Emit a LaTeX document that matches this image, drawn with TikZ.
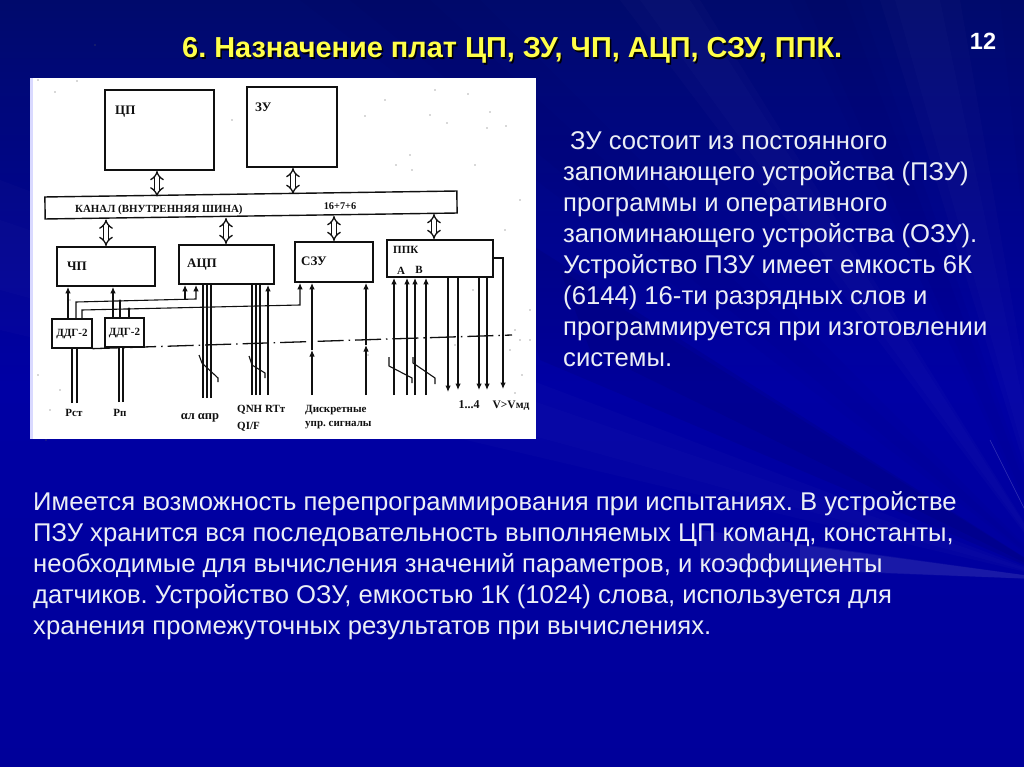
\documentclass[tikz,border=0pt]{standalone}
\usepackage{fontspec}
\setmainfont{Liberation Sans}
\newfontfamily\dserif{Liberation Serif}
\usetikzlibrary{arrows.meta}
\definecolor{bgtop}{HTML}{000A6C}
\definecolor{bgmid}{HTML}{0000A4}
\definecolor{bgbot}{HTML}{00009A}
\definecolor{bodytxt}{HTML}{EBEEF5}
\definecolor{titletxt}{HTML}{FFFF4A}
\definecolor{ink}{HTML}{101010}
\frenchspacing
\tikzset{
  blockbox/.style={draw=ink,line width=1.9pt,fill=white,inner sep=0pt},
  busbox/.style={draw=ink,line width=1.4pt,fill=white,inner sep=0pt,minimum width=412pt,minimum height=22pt,rotate=0.83},
  dblarrow/.style={double=white,double distance=3.4pt,line width=1.3pt,draw=ink,{Implies[]}-{Implies[]}},
  wire/.style={draw=ink,line width=1.1pt},
  arrowup/.style={draw=ink,line width=1.1pt,-{Latex[length=6.5pt,width=5.5pt]}},
  sig/.style={draw=ink,line width=1.1pt},
  slash/.style={draw=ink,line width=1.1pt},
  dlabel/.style={text=ink,inner sep=0pt,font=\dserif\bfseries\fontsize{11}{11}\selectfont},
  blabel/.style={text=ink,inner sep=0pt,font=\dserif\bfseries\fontsize{13}{13}\selectfont},
  slidetext/.style={text=bodytxt,inner sep=0pt,align=left,anchor=north west,font=\fontsize{25.65}{31}\selectfont},
  ray/.style={fill=#1,opacity=0.016,draw=none},
}
\begin{document}
\begin{tikzpicture}[x=1pt,y=-1pt]
\useasboundingbox (0,0) rectangle (1024,767);
% background
\shade[top color=bgtop,bottom color=bgbot,middle color=bgmid] (0,0) rectangle (1024,767);
\begin{scope}
\clip (0,0) rectangle (1024,767);
\coordinate (rc) at (1060,580);
\foreach \ax/\ay/\bx/\by/\c in {620/0/700/0/white,640/0/690/0/white,790/0/860/0/black,805/0/845/0/black,880/0/960/0/white,895/0/940/0/white,1000/0/1040/0/black,300/0/480/0/black,350/0/430/0/black,0/180/0/330/white,0/220/0/290/white}{
  \fill[ray=\c] (rc) -- (\ax,\ay) -- (\bx,\by) -- cycle;
}
\fill[ray=black,opacity=0.06] (rc) -- (500,225) -- (540,360) -- cycle;
\fill[ray=black,opacity=0.05] (rc) -- (560,270) -- (590,350) -- cycle;
\fill[ray=white,opacity=0.05] (rc) -- (700,530) -- (700,565) -- cycle;
\fill[ray=white,opacity=0.05] (rc) -- (800,545) -- (800,570) -- cycle;
\draw[white,opacity=0.2,line width=0.6pt] (rc) -- (990,440);
\end{scope}
% white panel of the scanned diagram
\fill[white] (30,78) rectangle (536,439);
\fill[white!85!blue] (30,78) rectangle (33,439);
% specks
\foreach \sx/\sy in {38/80,55/92,77/81,178/137,95/45,232/120,365/116,335/160,385/100,435/90,468/94,487/128,506/126,490/112,447/123,510/350,515/330,530/340,455/345,530/310,522/375,515/393,473/290,520/340,368/355,50/410,70/300,46/440,38/375,60/390,520/200,505/230,475/165,430/115,412/170,396/165,410/155}{
  \fill[ink!70] (\sx,\sy) circle (0.6pt);
}
% boxes
\node[blockbox,minimum width=109pt,minimum height=80pt] (cpu) at (159.5,130) {};
\node[blockbox,minimum width=90pt,minimum height=80pt] (zu) at (292,127) {};
\node[busbox] (bus) at (251,205) {};
\node[blockbox,minimum width=98pt,minimum height=39pt] (chp) at (106,266.5) {};
\node[blockbox,minimum width=95pt,minimum height=39pt] (adc) at (226.5,264.5) {};
\node[blockbox,minimum width=78pt,minimum height=40pt] (szu) at (334,262) {};
\node[blockbox,minimum width=106pt,minimum height=37pt] (ppk) at (440,258.5) {};
\node[blockbox,line width=1.3pt,minimum width=40pt,minimum height=29pt] (ddga) at (72,333.5) {};
\node[blockbox,line width=1.3pt,minimum width=39pt,minimum height=29pt] (ddgb) at (124.5,332.5) {};
% box labels
\node[blabel,anchor=west] (lcpu) at (115,112) {ЦП};
\node[blabel,anchor=west] (lzu) at (255,107) {ЗУ};
\node[blabel,anchor=center] (lchp) at (77,266) {ЧП};
\node[blabel,anchor=west] (ladc) at (187,265) {АЦП};
\node[blabel,anchor=west] (lszu) at (301,261) {СЗУ};
\node[dlabel,anchor=west] (lppk) at (393,250) {ППК};
\node[dlabel,anchor=center] (la) at (401,271) {А};
\node[dlabel,anchor=center] (lb) at (419,270) {В};
\node[dlabel,anchor=west,font=\dserif\bfseries\fontsize{10.9}{11}\selectfont] (lcanal) at (75,209.5) {КАНАЛ (ВНУТРЕННЯЯ ШИНА)};
\node[dlabel,font=\dserif\bfseries\fontsize{10.3}{11}\selectfont] (lbits) at (340,206.5) {16+7+6};
\node[dlabel,font=\dserif\bfseries\fontsize{11}{11}\selectfont] (lda) at (72,334) {ДДГ-2};
\node[dlabel,font=\dserif\bfseries\fontsize{11}{11}\selectfont] (ldb) at (124.5,333) {ДДГ-2};
% bus connections
\coordinate (bcpu) at (157,196.5);
\coordinate (bzu) at (293,194);
\coordinate (bchp) at (106,219.5);
\coordinate (badc) at (226,218);
\coordinate (bszu) at (334,216);
\coordinate (bppk) at (434,214);
\draw[dblarrow] (bcpu |- cpu.south) -- (bcpu);
\draw[dblarrow] (bzu |- zu.south) -- (bzu);
\draw[dblarrow] (bchp) -- (bchp |- chp.north);
\draw[dblarrow] (badc) -- (badc |- adc.north);
\draw[dblarrow] (bszu) -- (bszu |- szu.north);
\draw[dblarrow] (bppk) -- (bppk |- ppk.north);
% ДДГ to ЧП
\coordinate (da) at (68,319);
\coordinate (db) at (113,318);
\draw[arrowup] (da) -- (da |- chp.south);
\draw[arrowup] (db) -- (db |- chp.south);
% ДДГ lines to АЦП and СЗУ
\coordinate (w1s) at (76,319);
\coordinate (w1c) at (76,302);
\coordinate (w1e) at (196,299);
\coordinate (w1m) at (185,299.3);
\draw[arrowup] (w1s) -- (w1c) -- (w1e) -- (w1e |- adc.south);
\draw[arrowup] (w1m) -- (w1m |- adc.south);
\coordinate (w2s) at (82,319);
\coordinate (w2c) at (82,310);
\coordinate (w2e) at (300,305);
\draw[arrowup] (w2s) -- (w2c) -- (w2e) -- (w2e |- szu.south);
\coordinate (j1) at (120,301);
\coordinate (j2) at (129,309);
\draw[wire] (j1 |- ddgb.north) -- (j1);
\draw[wire] (j2 |- ddgb.north) -- (j2);
\fill[ink] (j1) circle (1.7pt);
\fill[ink] (j2) circle (1.7pt);
% separation line
\coordinate (sepe) at (512,335);
\draw[ink,line width=1.3pt,dash pattern=on 26pt off 5pt on 1.5pt off 5pt] (ddga.south east) -- (sepe);
% inputs under ДДГ
\foreach \x/\yb in {72/403,77/403}{ \coordinate (t) at (\x,\yb); \draw[sig] (t) -- (t |- ddga.south); }
\foreach \x/\yb in {119/402,123/402}{ \coordinate (t) at (\x,\yb); \draw[sig] (t) -- (t |- ddgb.south); }
% АЦП signals
\foreach \x/\yb in {203/398,207/398,211/398,252/395,256/395,260/395}{ \coordinate (t) at (\x,\yb); \draw[sig] (t) -- (t |- adc.south); }
\coordinate (rtt) at (268,395);
\draw[arrowup] (rtt) -- (rtt |- adc.south);
% СЗУ signals
\foreach \x/\m in {312/350,366/345}{
  \coordinate (t) at (\x,395);
  \coordinate (tm) at (\x,\m);
  \draw[arrowup] (t) -- (tm);
  \draw[arrowup] (tm) -- (tm |- szu.south);
}
% ППК inputs
\foreach \x in {394,407,415,426}{ \coordinate (t) at (\x,395); \draw[arrowup] (t) -- (t |- ppk.south); }
% ППК outputs
\foreach \x/\yb in {448/392,458/390,479/390,487/390}{ \coordinate (t) at (\x,\yb); \draw[arrowup] (t |- ppk.south) -- (t); }
% ППК step and output
\coordinate (st) at (503,258);
\coordinate (ste) at (503,389);
\draw[arrowup] (ppk.east |- st) -- (st) -- (ste);
% slash marks
\draw[slash] (199,355) -- (202,363) -- (218,378) -- (218,382);
\draw[slash] (249,356) -- (252,365) -- (265,373) -- (265,378);
\draw[slash] (389,357) -- (389,366) -- (412,378) -- (412,383);
\draw[slash] (413,357) -- (413,363) -- (435,378) -- (435,384);
% bottom labels
\node[dlabel] (lpst) at (74,413) {Рст};
\node[dlabel] (lpn) at (120,413) {Рп};
\node[dlabel,font=\dserif\bfseries\fontsize{12.5}{12}\selectfont] (lal) at (200,418) {αл\hspace{3pt}αпр};
\node[dlabel,anchor=west] (lqn) at (237,410) {QNН RTт};
\node[dlabel,anchor=west] (lqi) at (237,427) {QI/F};
\node[dlabel,anchor=west,font=\dserif\bfseries\fontsize{11}{11}\selectfont] (ldi) at (305,410) {Дискретные};
\node[dlabel,anchor=west,font=\dserif\bfseries\fontsize{11}{11}\selectfont] (lup) at (305,425) {упр. сигналы};
\node[dlabel,font=\dserif\bfseries\fontsize{12}{12}\selectfont] (l14) at (469,405) {1...4};
\node[dlabel,font=\dserif\bfseries\fontsize{11.5}{12}\selectfont] (lvv) at (511,406) {V>Vмд};
% slide texts
\node[text=black,inner sep=0pt,font=\bfseries\fontsize{28.9}{32}\selectfont,anchor=base west] (ttlsh) at (183.5,59.5) {6. Назначение плат ЦП, ЗУ, ЧП, АЦП, СЗУ, ППК.};
\node[text=titletxt,inner sep=0pt,font=\bfseries\fontsize{28.9}{32}\selectfont,anchor=base west] (ttl) at (182,58) {6. Назначение плат ЦП, ЗУ, ЧП, АЦП, СЗУ, ППК.};
\node[text=white,inner sep=0pt,font=\bfseries\fontsize{23.5}{28}\selectfont] (num) at (983,41) {12};
\node[slidetext] (right) at (563,131) {\hspace{7pt}ЗУ состоит из постоянного\\запоминающего устройства (ПЗУ)\\программы и оперативного\\запоминающего устройства (ОЗУ).\\Устройство ПЗУ имеет емкость 6К\\(6144) 16-ти разрядных слов и\\программируется при изготовлении\\системы.};
\node[slidetext] (lower) at (33,491) {Имеется возможность перепрограммирования при испытаниях. В устройстве\\ПЗУ хранится вся последовательность выполняемых ЦП команд, константы,\\необходимые для вычисления значений параметров, и коэффициенты\\датчиков. Устройство ОЗУ, емкостью 1К (1024) слова, используется для\\хранения промежуточных результатов при вычислениях.};
\end{tikzpicture}
\end{document}
